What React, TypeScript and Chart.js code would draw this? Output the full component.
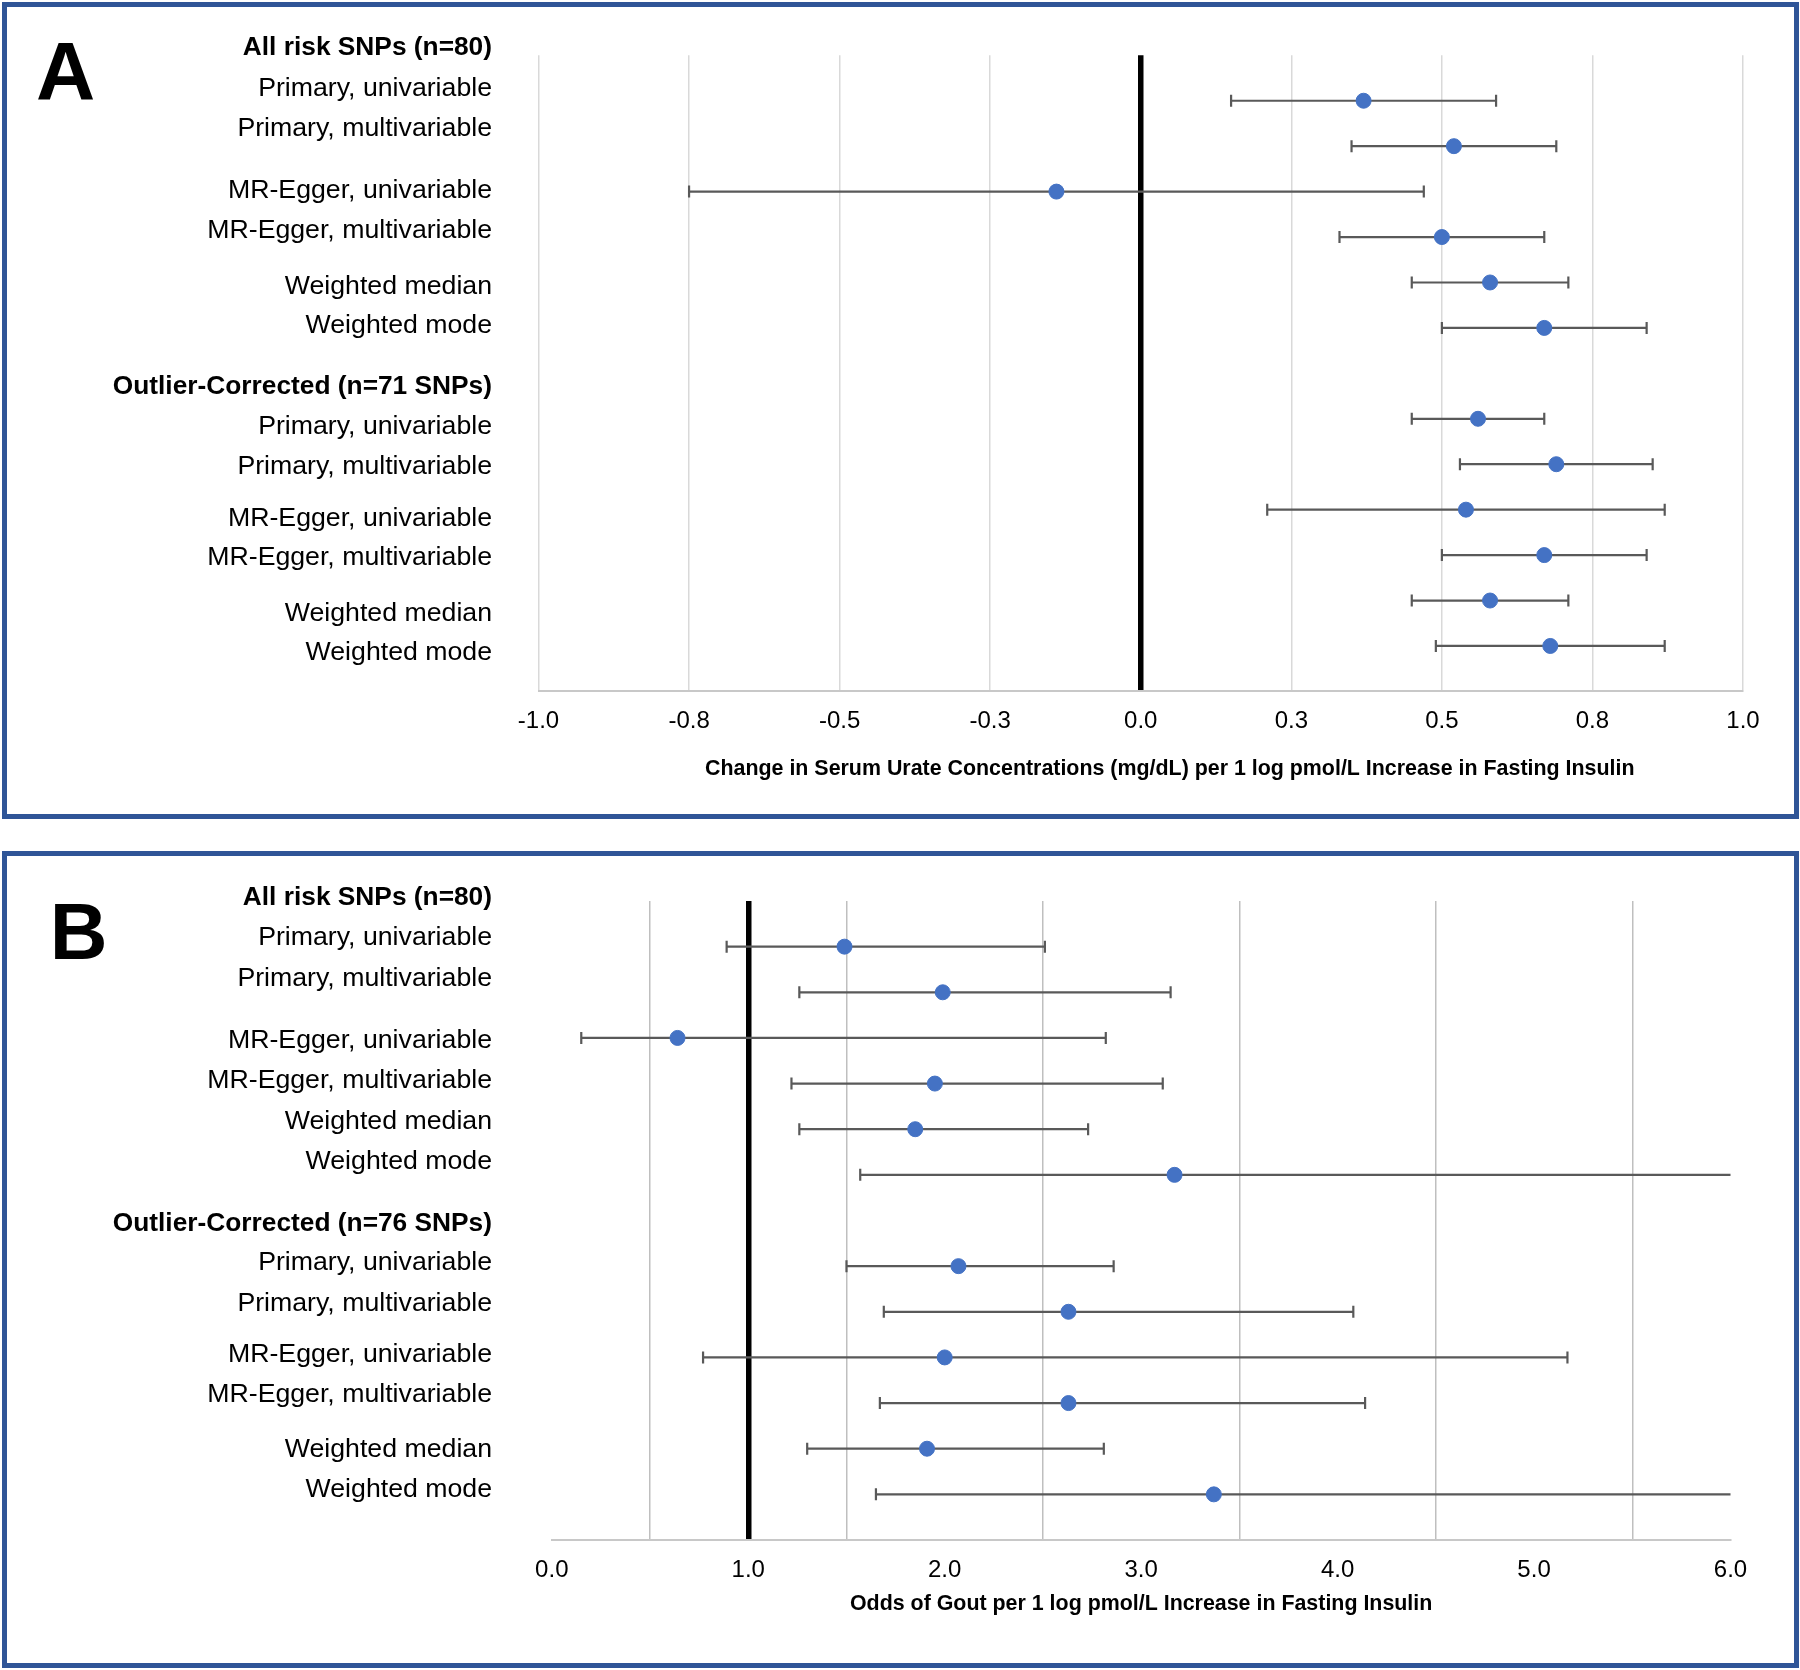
import React, { useEffect, useRef } from 'react';
import { Chart, registerables } from 'chart.js';

Chart.register(...registerables);

// ---------------- data ----------------
const methodLabels = [
  'Primary, univariable',
  'Primary, multivariable',
  'MR-Egger, univariable',
  'MR-Egger, multivariable',
  'Weighted median',
  'Weighted mode',
];
const groupHeadersA = ['All risk SNPs (n=80)', 'Outlier-Corrected (n=71 SNPs)'];
const groupHeadersB = ['All risk SNPs (n=80)', 'Outlier-Corrected (n=76 SNPs)'];

// row slot of each estimate (slot 6 is the gap between the two groups)
const rowSlots = [0, 1, 2, 3, 4, 5, 7, 8, 9, 10, 11, 12];

// Panel A: change in serum urate (mg/dL)
const urateEstimate = [0.37, 0.52, -0.14, 0.50, 0.58, 0.67, 0.56, 0.69, 0.54, 0.67, 0.58, 0.68];
const urateLower = [0.15, 0.35, -0.75, 0.33, 0.45, 0.50, 0.45, 0.53, 0.21, 0.50, 0.45, 0.49];
const urateUpper = [0.59, 0.69, 0.47, 0.67, 0.71, 0.84, 0.67, 0.85, 0.87, 0.84, 0.71, 0.87];
const urateTickLabels = ['-1.0', '-0.8', '-0.5', '-0.3', '0.0', '0.3', '0.5', '0.8', '1.0'];

// Panel B: odds of gout
const goutOR = [1.49, 1.99, 0.64, 1.95, 1.85, 3.17, 2.07, 2.63, 2.00, 2.63, 1.91, 3.37];
const goutLower = [0.89, 1.26, 0.15, 1.22, 1.26, 1.57, 1.50, 1.69, 0.77, 1.67, 1.30, 1.65];
const goutUpper = [2.51, 3.15, 2.82, 3.11, 2.73, 6.5, 2.86, 4.08, 5.17, 4.14, 2.81, 6.5];
const goutTickLabels = ['0.0', '1.0', '2.0', '3.0', '4.0', '5.0', '6.0'];

const titleA = 'Change in Serum Urate Concentrations (mg/dL) per 1 log pmol/L Increase in Fasting Insulin';
const titleB = 'Odds of Gout per 1 log pmol/L Increase in Fasting Insulin';

// ---------------- layout (not data) ----------------
const FONT = '"Liberation Sans", Arial, sans-serif';
const labelSlotsA = [-1.19, -0.31, 0.57, 1.95, 2.83, 4.05, 4.92, 6.27, 7.14, 8.02, 9.17, 10.03, 11.26, 12.12];
const labelSlotsB = [-1.1, -0.22, 0.66, 2.03, 2.91, 3.8, 4.67, 6.03, 6.9, 7.78, 8.91, 9.79, 10.99, 11.87];

const CANVAS_W = 1787;
const CANVAS_H = 807;

type PanelCfg = {
  letter: string;
  letterX: number;
  letterY: number;
  letterSize: number;
  headers: string[];
  labelSlots: number[];
  est: number[];
  lo: number[];
  hi: number[];
  min: number;
  max: number;
  step: number;
  ref: number;
  tickLabel: (v: number, i: number) => string;
  gridOn: (v: number) => boolean;
  gridColor: string;
  padding: { left: number; right: number; top: number; bottom: number };
  title: string;
  titleDx: number;
  titleDy: number;
};

function makeChart(canvas: HTMLCanvasElement, cfg: PanelCfg) {
  const rows: string[] = [cfg.headers[0], ...methodLabels, cfg.headers[1], ...methodLabels];

  const errorBars = {
    id: 'errorBars',
    beforeDatasetsDraw(chart: any) {
      const { ctx, chartArea } = chart;
      const xs = chart.scales.x;
      const ys = chart.scales.y;
      ctx.save();
      ctx.beginPath();
      ctx.rect(chartArea.left, chartArea.top - 20, chartArea.right - chartArea.left, chartArea.bottom - chartArea.top + 40);
      ctx.clip();
      ctx.strokeStyle = '#595959';
      ctx.lineWidth = 2.2;
      for (let i = 0; i < cfg.est.length; i++) {
        const y = ys.getPixelForValue(rowSlots[i]);
        const x1 = xs.getPixelForValue(cfg.lo[i]);
        const x2 = xs.getPixelForValue(cfg.hi[i]);
        ctx.beginPath();
        ctx.moveTo(x1, y);
        ctx.lineTo(x2, y);
        ctx.stroke();
        const capH = 6;
        if (cfg.lo[i] >= xs.min) {
          ctx.beginPath();
          ctx.moveTo(x1, y - capH);
          ctx.lineTo(x1, y + capH);
          ctx.stroke();
        }
        if (cfg.hi[i] <= xs.max) {
          ctx.beginPath();
          ctx.moveTo(x2, y - capH);
          ctx.lineTo(x2, y + capH);
          ctx.stroke();
        }
      }
      ctx.restore();
    },
  };

  const textPlugin = {
    id: 'panelText',
    afterDraw(chart: any) {
      const { ctx, chartArea } = chart;
      const ys = chart.scales.y;
      ctx.save();
      ctx.fillStyle = '#000';
      // row labels
      ctx.textAlign = 'right';
      ctx.textBaseline = 'middle';
      rows.forEach((txt, i) => {
        const bold = i === 0 || i === 7;
        ctx.font = `${bold ? 'bold 26.3px' : '26.7px'} ${FONT}`;
        ctx.fillText(txt, 485, ys.getPixelForValue(cfg.labelSlots[i]) + 1.5);
      });
      // axis title
      ctx.textAlign = 'center';
      ctx.font = `bold 21.4px ${FONT}`;
      ctx.fillText(cfg.title, (chartArea.left + chartArea.right) / 2 + cfg.titleDx, chartArea.bottom + cfg.titleDy);
      // panel letter
      ctx.textAlign = 'left';
      ctx.textBaseline = 'alphabetic';
      ctx.font = `bold ${cfg.letterSize}px ${FONT}`;
      ctx.fillText(cfg.letter, cfg.letterX, cfg.letterY);
      ctx.restore();
    },
  };

  return new Chart(canvas, {
    type: 'scatter',
    data: {
      datasets: [
        {
          data: cfg.est.map((v, i) => ({ x: v, y: rowSlots[i] })),
          pointRadius: 7.5,
          pointHoverRadius: 7.5,
          pointBackgroundColor: '#4472C4',
          pointBorderColor: '#4472C4',
          pointBorderWidth: 1,
          showLine: false,
        },
      ],
    },
    options: {
      responsive: false,
      animation: false,
      events: [],
      layout: { padding: cfg.padding },
      plugins: { legend: { display: false }, tooltip: { enabled: false }, title: { display: false } },
      scales: {
        x: {
          type: 'linear',
          min: cfg.min,
          max: cfg.max,
          afterFit: (s: any) => {
            s.height = 60;
          },
          ticks: {
            stepSize: cfg.step,
            autoSkip: false,
            maxRotation: 0,
            padding: 15.5,
            color: '#000',
            font: { family: FONT, size: 24 },
            callback: (v: any, i: number) => cfg.tickLabel(Number(v), i),
          },
          grid: {
            drawTicks: false,
            color: (c: any) => {
              const v = c.tick ? c.tick.value : NaN;
              if (Math.abs(v - cfg.ref) < 1e-9) return '#000000';
              return cfg.gridOn(v) ? cfg.gridColor : 'rgba(0,0,0,0)';
            },
            lineWidth: (c: any) => {
              const v = c.tick ? c.tick.value : NaN;
              return Math.abs(v - cfg.ref) < 1e-9 ? 5.5 : 1.5;
            },
          },
          border: { display: true, color: '#C8C8C8', width: 2 },
        },
        y: {
          type: 'linear',
          min: -1,
          max: 13,
          reverse: true,
          display: false,
        },
      },
    },
    plugins: [errorBars, textPlugin],
  } as any);
}

const panelA: PanelCfg = {
  letter: 'A',
  letterX: 29,
  letterY: 92,
  letterSize: 82,
  headers: groupHeadersA,
  labelSlots: labelSlotsA,
  est: urateEstimate,
  lo: urateLower,
  hi: urateUpper,
  min: -1,
  max: 1,
  step: 0.25,
  ref: 0,
  tickLabel: (_v, i) => urateTickLabels[i] ?? '',
  gridOn: () => true,
  gridColor: '#D9D9D9',
  padding: { left: 531.5, right: 51, top: 48.3, bottom: 62.6 },
  title: titleA,
  titleDx: 29,
  titleDy: 78,
};

const panelB: PanelCfg = {
  letter: 'B',
  letterX: 42.7,
  letterY: 103,
  letterSize: 80,
  headers: groupHeadersB,
  labelSlots: labelSlotsB,
  est: goutOR,
  lo: goutLower,
  hi: goutUpper,
  min: 0,
  max: 6,
  step: 0.5,
  ref: 1,
  tickLabel: (v) => (Math.abs(v - Math.round(v)) < 1e-9 ? goutTickLabels[Math.round(v)] ?? '' : ''),
  gridOn: (v) => Math.abs(v - Math.round(v)) > 0.25,
  gridColor: '#BFBFBF',
  padding: { left: 544.8, right: 63.5, top: 45, bottom: 63 },
  title: titleB,
  titleDx: 0,
  titleDy: 64,
};

function Panel({ cfg, top }: { cfg: PanelCfg; top: number }) {
  const ref = useRef<HTMLCanvasElement | null>(null);
  useEffect(() => {
    if (!ref.current) return;
    const chart = makeChart(ref.current, cfg);
    return () => chart.destroy();
  }, [cfg]);
  return (
    <div
      style={{
        position: 'absolute',
        left: 2,
        top,
        width: 1797,
        height: 817,
        boxSizing: 'border-box',
        border: '5px solid #2F5597',
        background: '#fff',
      }}
    >
      <canvas
        ref={ref}
        width={CANVAS_W}
        height={CANVAS_H}
        style={{ position: 'absolute', left: 0, top: 0, width: CANVAS_W, height: CANVAS_H }}
      />
    </div>
  );
}

export default function App() {
  return (
    <div style={{ position: 'absolute', left: 0, top: 0, width: 1800, height: 1670, background: '#fff', overflow: 'hidden' }}>
      <Panel cfg={panelA} top={2} />
      <Panel cfg={panelB} top={851} />
    </div>
  );
}
